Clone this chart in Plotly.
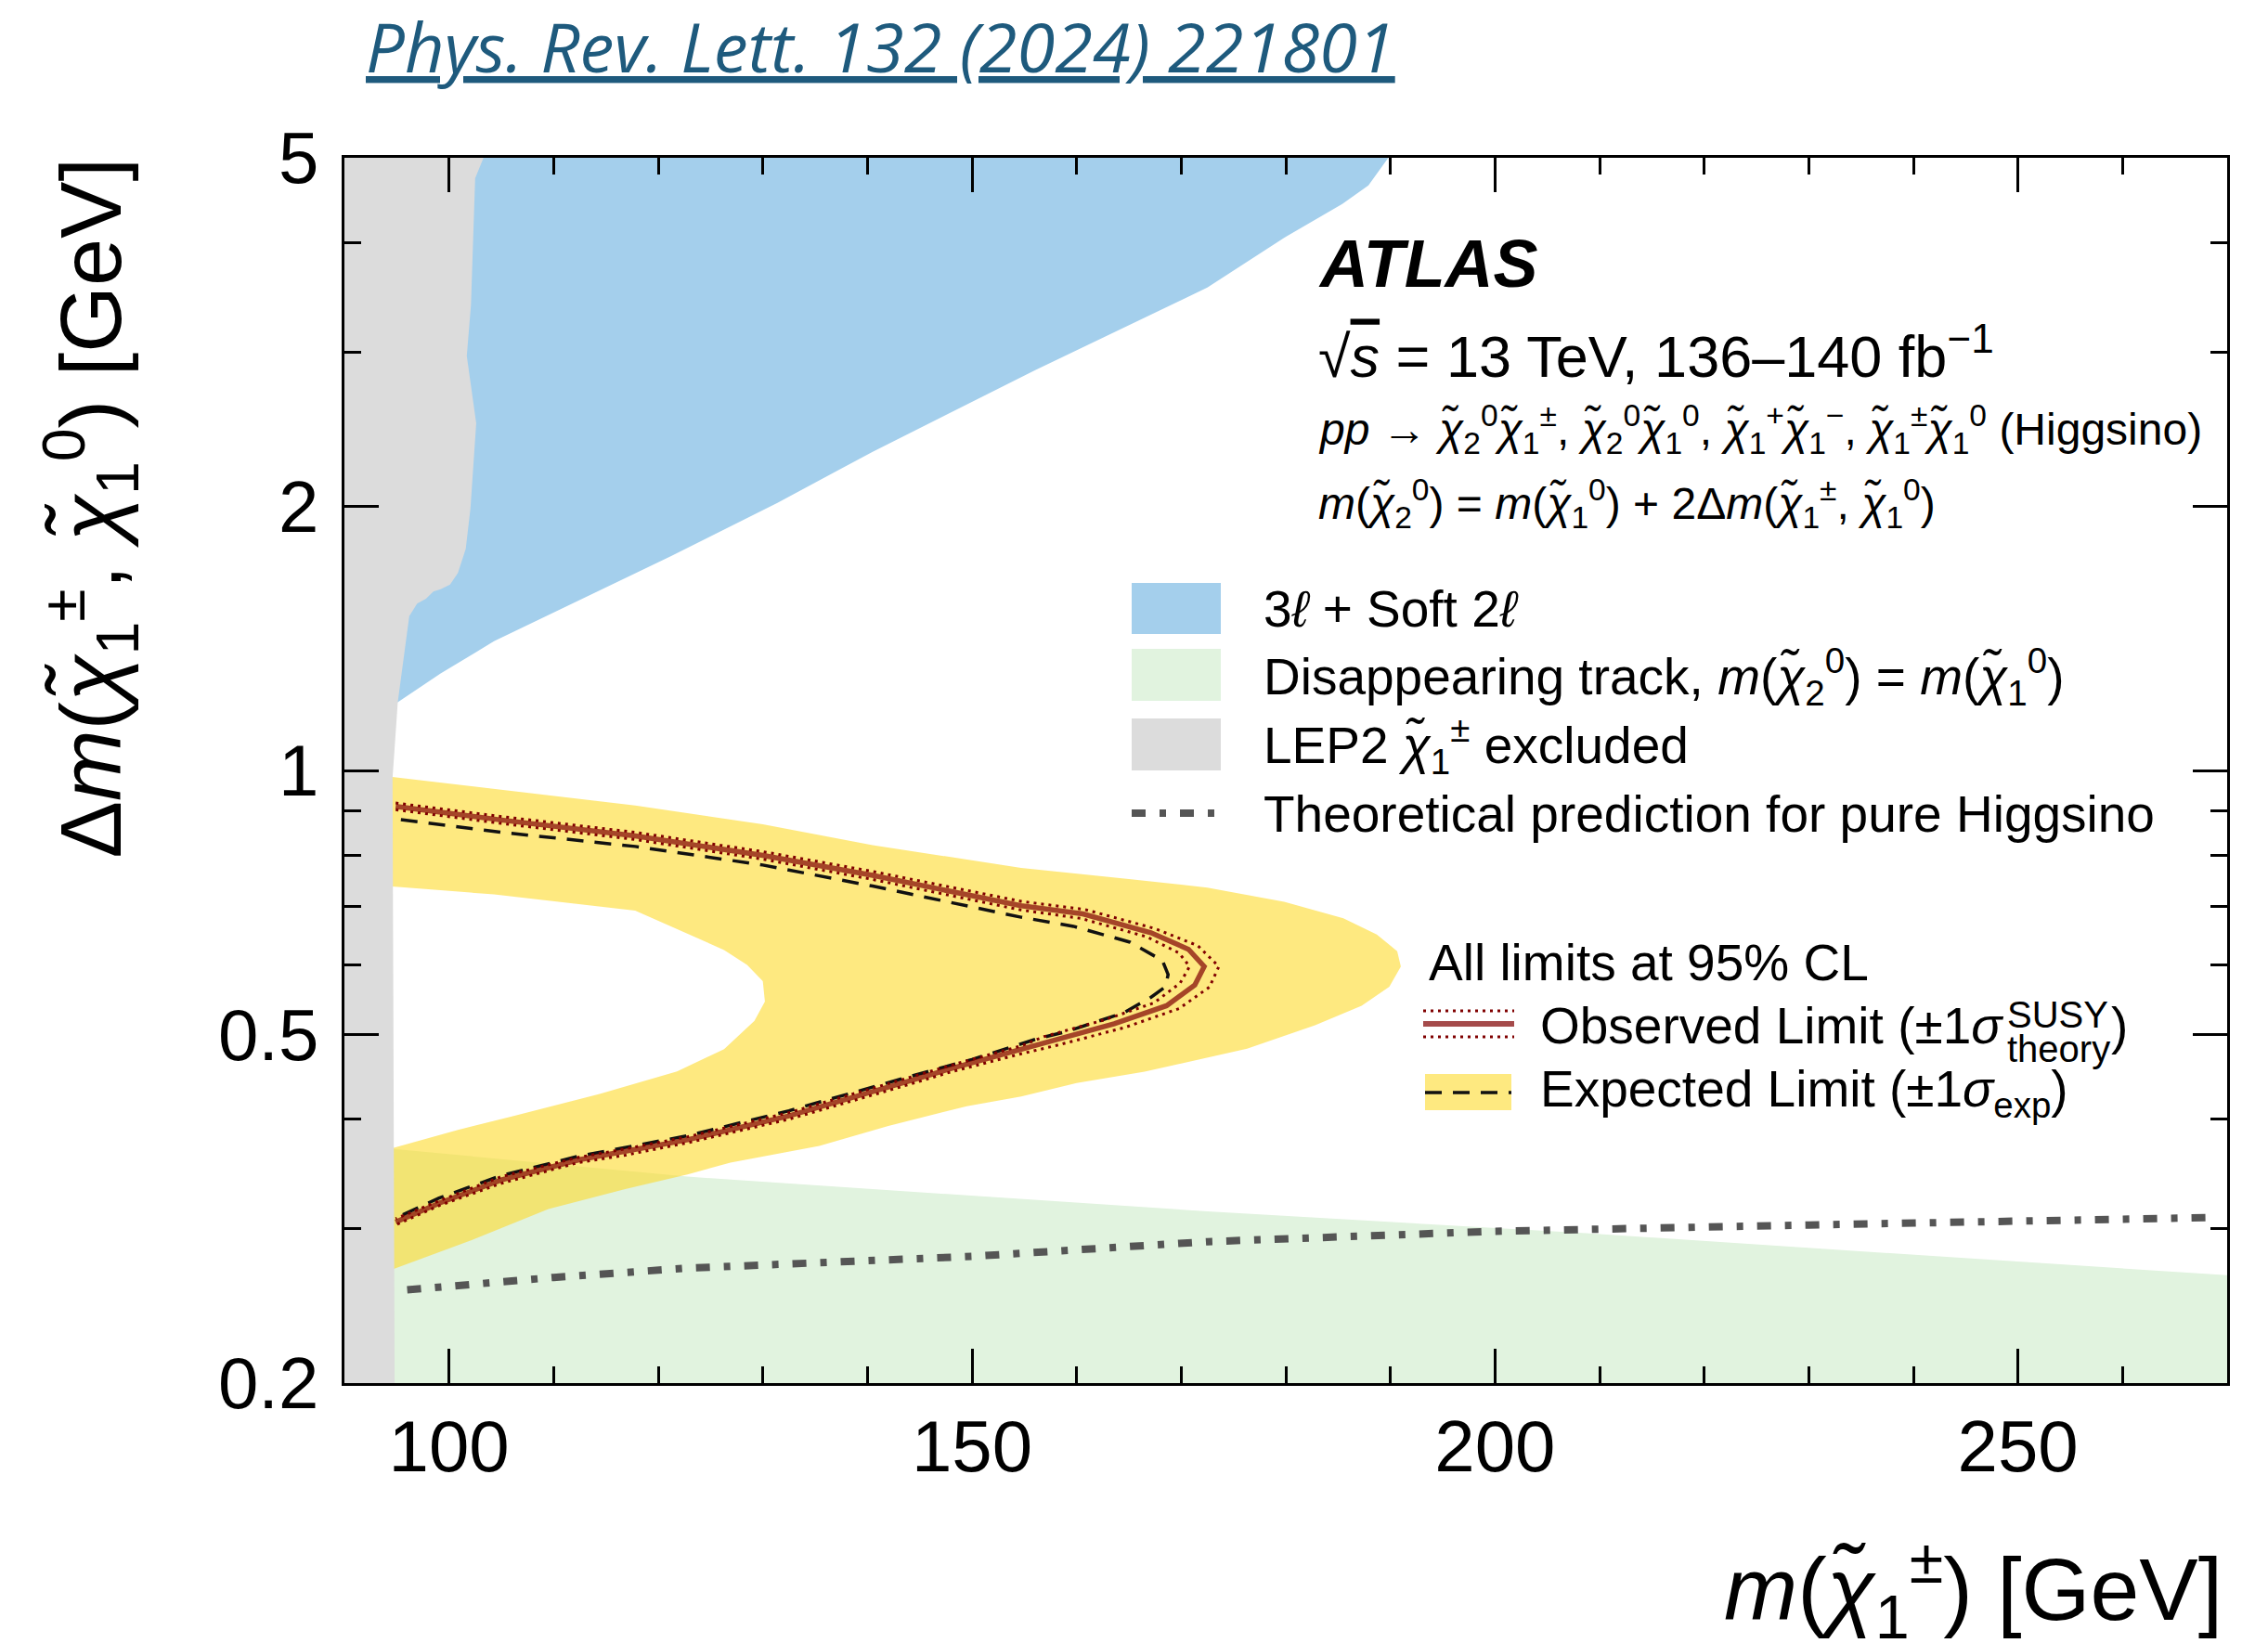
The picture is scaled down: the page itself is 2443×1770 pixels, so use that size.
import math
import plotly.graph_objects as go

# ---------------- data ----------------
# LEP2 excluded region: right boundary (m_chargino, dm)
lep_x = [90, 103.3, 102.5, 102.1, 101.7, 102.6, 102.05, 101.6, 100.85, 100.1, 99.2, 98.5, 97.8, 96.95, 96.2, 95.8, 95.1, 94.6, 94.7, 94.8, 90]
lep_y = [5.0, 5.0, 4.74, 3.40, 2.97, 2.49, 1.99, 1.79, 1.68, 1.63, 1.61, 1.60, 1.57, 1.55, 1.50, 1.385, 1.196, 0.98, 0.5, 0.2, 0.2]

# 3l + soft 2l exclusion
blue_x = [90, 189.8, 187.9, 185.4, 179.8, 172.5, 156, 140.5, 131.4, 121.2, 112.75, 104.3, 99.2, 95.1, 90]
blue_y = [5.0, 5.0, 4.65, 4.43, 4.05, 3.555, 2.86, 2.31, 2.02, 1.755, 1.57, 1.404, 1.29, 1.196, 1.196]

# disappearing track exclusion
green_x = [90, 94.7, 122.8, 172.5, 208.7, 270, 270, 90]
green_y = [0.370, 0.370, 0.344, 0.314, 0.2965, 0.2655, 0.2, 0.2]

# expected +-1 sigma band (outer contour, then inner hole)
band_x = [94.0, 105, 117.8, 130, 140.5, 154.7, 165, 172.5, 179.85, 185.5, 188.7, 190.65, 191.0, 189.9,
          187.25, 182.8, 176.3, 166.5, 160, 154.7, 149.5, 142, 135.4, 126.9, 122.8, 116.85, 109.5, 102.1, 94.0,
          94.0, 100.85, 106, 114.4, 121.8, 126.3, 129.2, 130.2, 130.0, 128.5, 126.3, 117.8, 104.3, 94.0]
band_y = [0.985, 0.950, 0.912, 0.868, 0.822, 0.774, 0.752, 0.735, 0.708, 0.678, 0.650, 0.622, 0.5975, 0.5665,
          0.539, 0.512, 0.4815, 0.4533, 0.440, 0.4246, 0.414, 0.393, 0.373, 0.357, 0.346, 0.333, 0.316, 0.291, 0.268,
          0.369, 0.389, 0.403, 0.4275, 0.4535, 0.481, 0.518, 0.545, 0.575, 0.600, 0.624, 0.692, 0.722, 0.738]

# expected limit
exp_x = [95.4, 105, 117.8, 130, 140.5, 154.7, 159.7, 165.1, 168.2, 168.75, 168.5, 167.1, 164.5, 161.8,
         159.15, 156.2, 150, 143.9, 132.5, 122.8, 112.4, 105, 99, 95.0]
exp_y = [0.879, 0.850, 0.819, 0.780, 0.738, 0.680, 0.664, 0.637, 0.607, 0.585, 0.5665, 0.551, 0.529, 0.516,
         0.504, 0.494, 0.468, 0.447, 0.409, 0.383, 0.363, 0.345, 0.325, 0.309]

# observed limit (nominal, +1 sigma theory, -1 sigma theory)
obs_x = [94.9, 105, 117.8, 130, 140.5, 154.7, 160.6, 167.1, 170.7, 172.2, 171.3, 168.6, 163.6, 157.7,
         154.7, 148, 143.9, 132.5, 122.8, 116.85, 112.4, 105, 99.1, 94.9]
obs_y = [0.910, 0.878, 0.842, 0.800, 0.759, 0.701, 0.686, 0.653, 0.625, 0.5975, 0.569, 0.539, 0.514, 0.492,
         0.480, 0.457, 0.442, 0.4035, 0.379, 0.367, 0.3595, 0.341, 0.321, 0.3054]
obs_up_x = [94.9, 105, 117.8, 130, 140.5, 154.7, 160.8, 167.5, 171.6, 173.6, 172.7, 169.8, 164.6, 158.5,
            154.7, 148, 143.9, 132.5, 122.8, 116.85, 112.4, 105, 99.1, 94.9]
obs_up_y = [0.918, 0.886, 0.850, 0.808, 0.767, 0.709, 0.694, 0.660, 0.631, 0.5975, 0.566, 0.535, 0.509, 0.487,
            0.475, 0.453, 0.438, 0.400, 0.376, 0.364, 0.357, 0.338, 0.319, 0.303]
obs_dn_x = [94.9, 105, 117.8, 130, 140.5, 154.7, 160.4, 166.7, 169.8, 170.8, 169.9, 167.4, 162.6, 156.9,
            154.7, 148, 143.9, 132.5, 122.8, 116.85, 112.4, 105, 99.1, 94.9]
obs_dn_y = [0.902, 0.870, 0.834, 0.792, 0.751, 0.693, 0.678, 0.646, 0.619, 0.5975, 0.572, 0.543, 0.519, 0.497,
            0.485, 0.461, 0.446, 0.407, 0.382, 0.370, 0.362, 0.344, 0.323, 0.308]

# theoretical prediction for pure Higgsino
theo_x = [96, 110, 122.8, 150, 172.5, 200, 230, 250, 268.9]
theo_y = [0.2555, 0.264, 0.2705, 0.279, 0.290, 0.298, 0.303, 0.306, 0.309]

x_major = [100, 150, 200, 250]
x_labels = ['100', '150', '200', '250']
y_major = [0.2, 0.5, 1, 2, 5]
y_labels = ['0.2', '0.5', '1', '2', '5']
y_minor = [0.3, 0.4, 0.6, 0.7, 0.8, 0.9, 3, 4]

# ---------------- styling ----------------
FONT = "Liberation Sans, Arial, Helvetica, sans-serif"
BLUE = '#A4CFEC'
GREEN = '#E1F3DF'
GREY = '#DCDCDC'
YELLOW_A = 'rgba(253,218,43,0.6)'
YELLOW = '#FEE980'
OBS = 'rgba(130,5,5,0.72)'
DOT = '#800000'
THEO = '#555555'

W, H = 2443, 1770
L, R, T, B = 371, 2399, 170, 1490


def px(x):
    return (x - L) / (R - L)


def py(y):
    return (B - y) / (B - T)


fig = go.Figure()


def area(x, y, color):
    fig.add_trace(go.Scatter(x=x, y=y, mode='lines', fill='toself', fillcolor=color,
                             line=dict(width=0, color='rgba(0,0,0,0)'), hoverinfo='skip', showlegend=False))


def line(x, y, color, width, dash):
    fig.add_trace(go.Scatter(x=x, y=y, mode='lines', line=dict(color=color, width=width, dash=dash),
                             hoverinfo='skip', showlegend=False))


area(blue_x, blue_y, BLUE)
area(green_x, green_y, GREEN)
area(band_x, band_y, YELLOW_A)
area(lep_x, lep_y, GREY)
line(theo_x, theo_y, THEO, 8, '15px,15px,7px,15px')
line(exp_x, exp_y, '#111111', 3.5, '18px,12px')
line(obs_x, obs_y, OBS, 5.5, 'solid')
line(obs_up_x, obs_up_y, DOT, 3, '3px,5px')
line(obs_dn_x, obs_dn_y, DOT, 3, '3px,5px')

axis_common = dict(showline=True, linecolor='black', linewidth=3, mirror='ticks', ticks='inside',
                   ticklen=37, tickwidth=3, tickcolor='black', showgrid=False, zeroline=False,
                   tickfont=dict(family=FONT, size=78, color='black'))

fig.update_xaxes(range=[90, 270], tickmode='array', tickvals=x_major, ticktext=x_labels,
                 minor=dict(ticks='inside', ticklen=18, tickwidth=3, tickcolor='black', dtick=10, tick0=100),
                 ticklabelstandoff=-2, **axis_common)
fig.update_yaxes(type='log', range=[math.log10(0.2), math.log10(5)], tickmode='array', tickvals=y_major,
                 ticktext=y_labels,
                 minor=dict(ticks='inside', ticklen=18, tickwidth=3, tickcolor='black', tickmode='array',
                            tickvals=y_minor),
                 ticklabelstandoff=9, **axis_common)

shapes = []
ann = []


def text(x, y, s, size, xanchor='left', yanchor='middle', color='black', angle=0, family=FONT):
    ann.append(dict(x=x, y=y, xref='paper', yref='paper', text=s, showarrow=False, xanchor=xanchor,
                    yanchor=yanchor, textangle=angle, font=dict(family=family, size=size, color=color)))


CHI = '<i>χ̃</i>'
LS = 55  # legend font size

# header link
text(px(392), py(-3), '<i><u>Phys. Rev. Lett. 132 (2024) 221801</u></i>', 74, yanchor='top', color='#1E5A7D',
     family='Open Sans, sans-serif')

# ATLAS block
text(px(1418), py(284), '<b><i>ATLAS</i></b>', 72)
text(px(1418), py(379), '√<span style="text-decoration:overline"><i>s</i></span> = 13 TeV, 136–140 fb<sup>−1</sup>', 63)
text(px(1418), py(463), '<i>pp</i> → ' + CHI + '<sub>2</sub><sup>0</sup>' + CHI + '<sub>1</sub><sup>±</sup>, '
     + CHI + '<sub>2</sub><sup>0</sup>' + CHI + '<sub>1</sub><sup>0</sup>, '
     + CHI + '<sub>1</sub><sup>+</sup>' + CHI + '<sub>1</sub><sup>−</sup>, '
     + CHI + '<sub>1</sub><sup>±</sup>' + CHI + '<sub>1</sub><sup>0</sup> (Higgsino)', 48)
text(px(1418), py(542), '<i>m</i>(' + CHI + '<sub>2</sub><sup>0</sup>) = <i>m</i>(' + CHI
     + '<sub>1</sub><sup>0</sup>) + 2Δ<i>m</i>(' + CHI + '<sub>1</sub><sup>±</sup>, ' + CHI
     + '<sub>1</sub><sup>0</sup>)', 48)

# legend 1
for (y0, y1, c) in [(628, 683, BLUE), (699, 755, GREEN), (774, 830, GREY)]:
    shapes.append(dict(type='rect', xref='paper', yref='paper', x0=px(1219), x1=px(1315), y0=py(y1), y1=py(y0),
                       fillcolor=c, line=dict(width=0)))
shapes.append(dict(type='line', xref='paper', yref='paper', x0=px(1219), x1=px(1310), y0=py(876), y1=py(876),
                   line=dict(color=THEO, width=8, dash='15px,15px,7px,15px')))
text(px(1359), py(656), '3<i>ℓ</i> + Soft 2<i>ℓ</i>', LS)
text(px(1359), py(729), 'Disappearing track, <i>m</i>(' + CHI + '<sub>2</sub><sup>0</sup>) = <i>m</i>('
     + CHI + '<sub>1</sub><sup>0</sup>)', LS)
text(px(1359), py(803), 'LEP2 ' + CHI + '<sub>1</sub><sup>±</sup> excluded', LS)
text(px(1359), py(877), 'Theoretical prediction for pure Higgsino', LS)

# legend 2
text(px(1537), py(1037), 'All limits at 95% CL', LS)
for yy in (1089, 1117):
    shapes.append(dict(type='line', xref='paper', yref='paper', x0=px(1533), x1=px(1631), y0=py(yy), y1=py(yy),
                       line=dict(color=DOT, width=3, dash='3px,5px')))
shapes.append(dict(type='line', xref='paper', yref='paper', x0=px(1533), x1=px(1631), y0=py(1103), y1=py(1103),
                   line=dict(color=OBS, width=6)))
text(px(1657), py(1105), 'Observed Limit (±1<i>σ</i>', LS)
text(px(2160), py(1093), 'SUSY', 40)
text(px(2160), py(1130), 'theory', 40)
text(px(2272), py(1105), ')', LS)
shapes.append(dict(type='rect', xref='paper', yref='paper', x0=px(1535), x1=px(1628), y0=py(1196), y1=py(1157),
                   fillcolor=YELLOW, line=dict(width=0)))
shapes.append(dict(type='line', xref='paper', yref='paper', x0=px(1535), x1=px(1628), y0=py(1177), y1=py(1177),
                   line=dict(color='#111111', width=3.5, dash='18px,12px')))
text(px(1657), py(1177), 'Expected Limit (±1<i>σ</i><sub>exp</sub>)', LS)

# axis titles
text(px(2396), py(1712), '<i>m</i>(' + CHI + '<sub>1</sub><sup>±</sup>) [GeV]', 95, xanchor='right')
text(px(98), py(168), 'Δ<i>m</i>(' + CHI + '<sub>1</sub><sup>±</sup>, ' + CHI + '<sub>1</sub><sup>0</sup>) [GeV]',
     92, xanchor='center', yanchor='top', angle=-90)

fig.update_layout(width=W, height=H, margin=dict(l=L, r=W - R, t=T, b=H - B, pad=0),
                  plot_bgcolor='white', paper_bgcolor='white', showlegend=False,
                  shapes=shapes, annotations=ann, font=dict(family=FONT))

fig.write_html('out.html')
